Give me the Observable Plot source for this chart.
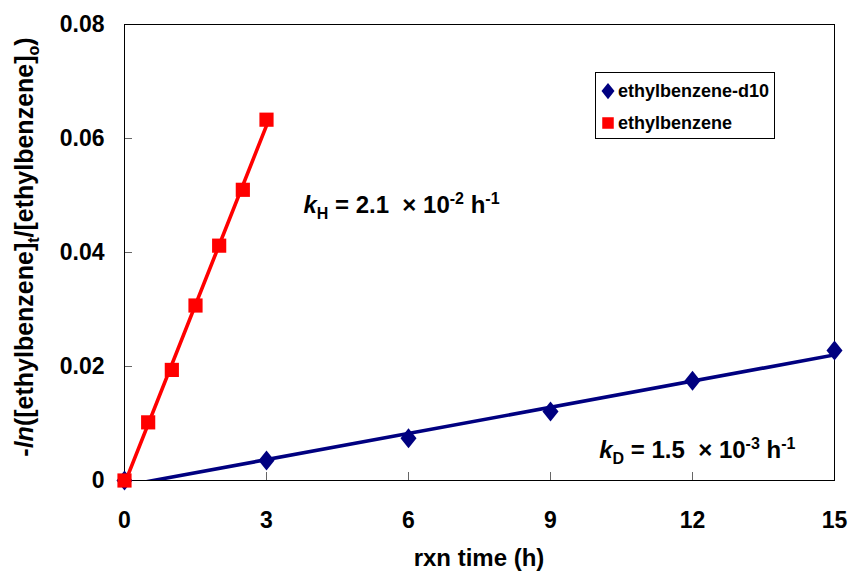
<!DOCTYPE html>
<html><head><meta charset="utf-8">
<script src="https://cdn.jsdelivr.net/npm/d3@7"></script>
<script src="https://cdn.jsdelivr.net/npm/@observablehq/plot@0.6"></script>
<style>
body{margin:0;background:#fff}
svg{font-family:"Liberation Sans",Arial,sans-serif}
</style>
</head><body><div id="chart"></div>
<script>
// ---- data ----
const seriesNames = ["ethylbenzene-d10", "ethylbenzene"];
const seriesColors = ["#000080", "#FF0000"];
const timeD = [0, 3, 6, 9, 12, 15];
const valuesD = [0, 0.0035, 0.0074, 0.0121, 0.0175, 0.0228];
const timeH = [0, 0.5, 1, 1.5, 2, 2.5, 3];
const valuesH = [0, 0.0102, 0.0194, 0.0307, 0.0412, 0.0510, 0.0633];
const xTicks = [0, 3, 6, 9, 12, 15];
const xTickLabels = ["0", "3", "6", "9", "12", "15"];
const yTicks = [0, 0.02, 0.04, 0.06, 0.08];
const yTickLabels = ["0", "0.02", "0.04", "0.06", "0.08"];
const annotX = [3.79, 10.04];
const annotY = [0.0468, 0.0038];

const rowsD = timeD.map((t, i) => ({t, v: valuesD[i]}));
const rowsH = timeH.map((t, i) => ({t, v: valuesH[i]}));

const diamond = {
  draw(ctx, size) {
    const r = Math.sqrt(size / Math.PI);
    ctx.moveTo(0, -r * 1.25);
    ctx.lineTo(r, 0);
    ctx.lineTo(0, r * 1.25);
    ctx.lineTo(-r, 0);
    ctx.closePath();
  }
};

const W = 849, H = 575, ML = 124, MR = 15, MT = 24, MB = 95;
const TICK = 8;

const plot = Plot.plot({
  width: W,
  height: H,
  marginLeft: ML,
  marginRight: MR,
  marginTop: MT,
  marginBottom: MB,
  x: {domain: [0, 15]},
  y: {domain: [0, 0.08]},
  style: {fontFamily: '"Liberation Sans", Arial, sans-serif', fontSize: "23px", fontWeight: "bold", background: "white", overflow: "visible", color: "black"},
  marks: [
    Plot.tickY(yTicks, {y: d => d, stroke: "#666", insetRight: W - ML - MR - TICK}),
    Plot.tickX(xTicks, {x: d => d, stroke: "#666", insetTop: H - MT - MB - TICK}),
    Plot.frame({stroke: "black"}),
    Plot.linearRegressionY(rowsD, {x: "t", y: "v", stroke: seriesColors[0], strokeWidth: 3.6, ci: 0, clip: true}),
    Plot.linearRegressionY(rowsH, {x: "t", y: "v", stroke: seriesColors[1], strokeWidth: 3.6, ci: 0, clip: true}),
    Plot.dot(rowsD, {x: "t", y: "v", r: 8, symbol: diamond, fill: seriesColors[0], stroke: "none"}),
    Plot.dot(rowsH, {x: "t", y: "v", r: 8, symbol: "square", fill: seriesColors[1], stroke: "none"}),
    Plot.axisX({ticks: xTicks, tickFormat: (d) => xTickLabels[xTicks.indexOf(d)], tickSize: 0, tickPadding: 31, fill: "black", label: null}),
    Plot.axisY({ticks: yTicks, tickFormat: (d) => yTickLabels[yTicks.indexOf(d)], tickSize: 0, tickPadding: 20, fill: "black", label: null})
  ]
});
document.getElementById("chart").appendChild(plot);

const svg = d3.select(plot);
const xs = plot.scale("x"), ys = plot.scale("y");

// y-axis label
const yl = svg.append("text")
  .attr("transform", `translate(33,${(MT + H - MB) / 2 - 5}) rotate(-90)`)
  .attr("text-anchor", "middle")
  .style("font-size", "25px").style("font-weight", "bold").attr("fill", "black");
yl.append("tspan").text("-");
yl.append("tspan").style("font-style", "italic").text("ln");
yl.append("tspan").text("([ethylbenzene]");
yl.append("tspan").attr("dy", 6).style("font-size", "16px").text("t");
yl.append("tspan").attr("dy", -6).text("/[ethylbenzene]");
yl.append("tspan").attr("dy", 6).style("font-size", "16px").text("o");
yl.append("tspan").attr("dy", -6).text(")");

// x-axis label
svg.append("text").attr("x", (ML + W - MR) / 2).attr("y", 566)
  .attr("text-anchor", "middle").style("font-size", "24px").style("font-weight", "bold")
  .attr("fill", "black").text("rxn time (h)");

// rate annotations
function rateLabel(i, sub, mant, exp) {
  const t = svg.append("text").attr("x", xs.apply(annotX[i])).attr("y", ys.apply(annotY[i]))
    .attr("text-anchor", "start")
    .style("font-size", "24px").style("font-weight", "bold").attr("fill", "black")
    .style("white-space", "pre");
  t.append("tspan").style("font-style", "italic").text("k");
  t.append("tspan").attr("dy", 6).style("font-size", "16px").text(sub);
  t.append("tspan").attr("dy", -6).text(" = " + mant + " \u00a0\u00d7 10");
  t.append("tspan").attr("dy", -9).style("font-size", "16px").text(exp);
  t.append("tspan").attr("dy", 9).text(" h");
  t.append("tspan").attr("dy", -9).style("font-size", "16px").text("-1");
}
rateLabel(0, "H", "2.1", "-2");
rateLabel(1, "D", "1.5", "-3");

// legend
const lg = svg.append("g");
lg.append("rect").attr("x", 595.5).attr("y", 72.5).attr("width", 179).attr("height", 66)
  .attr("fill", "white").attr("stroke", "black");
const legendSymbols = [diamond, d3.symbolSquare];
seriesNames.forEach((name, i) => {
  const cy = 91 + i * 32;
  lg.append("path").attr("transform", `translate(608,${cy})`)
    .attr("d", d3.symbol(legendSymbols[i], Math.PI * 6.5 * 6.5)())
    .attr("fill", seriesColors[i]);
  lg.append("text").attr("x", 618).attr("y", cy).attr("dy", "0.35em")
    .attr("text-anchor", "start")
    .style("font-size", "18px").style("font-weight", "bold").attr("fill", "black").text(name);
});
</script>
</body></html>
